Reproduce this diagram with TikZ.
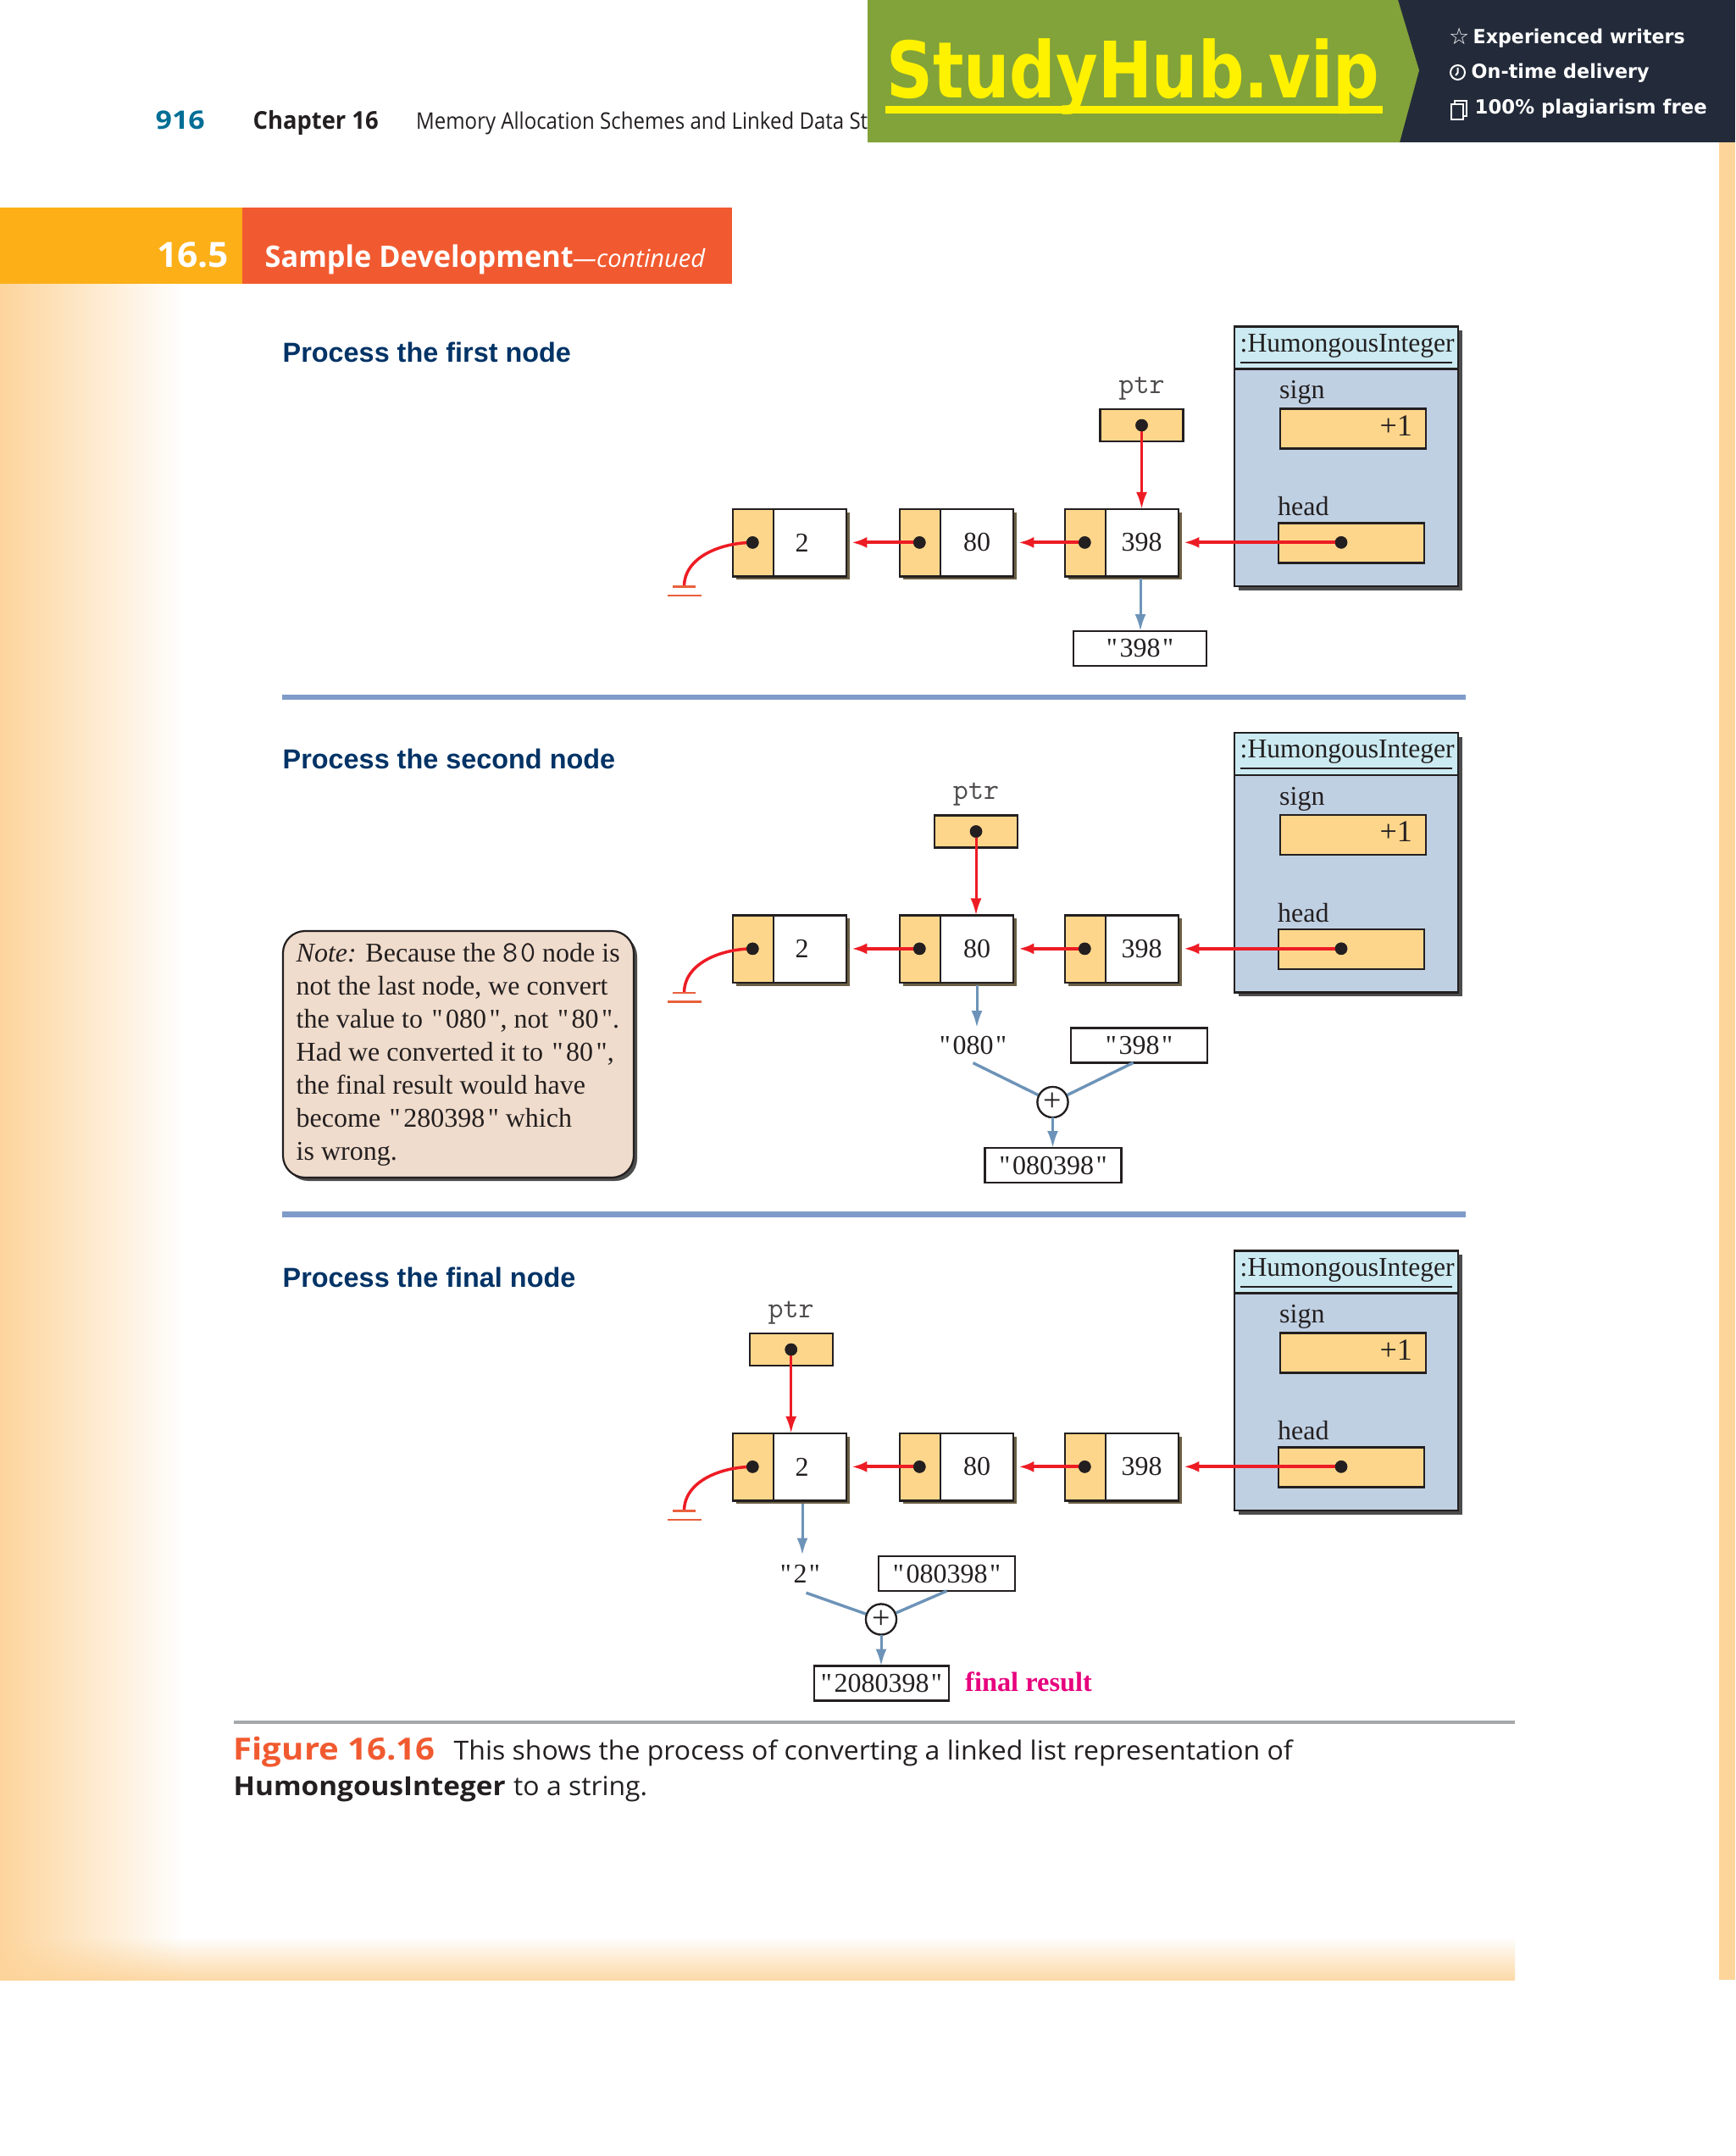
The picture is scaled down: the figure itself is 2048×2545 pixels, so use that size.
\documentclass[tikz,border=0pt]{standalone}
\usepackage{fontspec}
\setmainfont[Ligatures=TeXOff]{Liberation Serif}
\setsansfont{Open Sans}
\newfontfamily\arialfont{Liberation Sans}
\newfontfamily\dejafont{DejaVu Sans}
\usetikzlibrary{arrows.meta,shadows,fadings,shapes.geometric}
\definecolor{cellorange}{HTML}{FDD68B}
\definecolor{objblue}{HTML}{C0D0E3}
\definecolor{titlecyan}{HTML}{CBEAF1}
\definecolor{ink}{HTML}{231F20}
\definecolor{linkred}{HTML}{ED1C24}
\definecolor{flowblue}{HTML}{6D93B8}
\definecolor{groundred}{HTML}{E8603C}
\definecolor{rulepurple}{HTML}{7F9BC9}
\definecolor{headnavy}{HTML}{003366}
\definecolor{noteskin}{HTML}{F0DCCC}
\definecolor{band}{HTML}{FDD49A}
\definecolor{magentaink}{HTML}{E6007E}
\definecolor{pageteal}{HTML}{006E96}
\definecolor{nodeshadow}{HTML}{6B5F45}
\newcommand\pxsize[1]{\fontsize{#1}{#1}\selectfont}
\newcommand\fitw[2]{\resizebox{#1pt}{\height}{#2}}
\newcommand\qs[1]{"\kern2.5pt #1\kern2.5pt"}
\newcommand\qn[1]{\kern2.5pt"\kern3.5pt #1\kern3.5pt"}
\tikzset{
  txt/.style={inner sep=0pt,anchor=base west,text=ink,font=\pxsize{32}},
  ctxt/.style={inner sep=0pt,anchor=center,text=ink,font=\pxsize{32}},
  sans/.style={inner sep=0pt,anchor=base west,font=\sffamily\pxsize{27}},
  headtxt/.style={inner sep=0pt,anchor=base west,text=headnavy,font=\arialfont\bfseries\pxsize{32.4}},
  pen/.style={draw=ink,line width=2.2pt,outer sep=0pt},
  whole/.style={pen,fill=white,rectangle,inner sep=0pt,anchor=north west,minimum width=134pt,minimum height=79.5pt,
    general shadow={shadow xshift=4pt,shadow yshift=-4pt,fill=nodeshadow}},
  ptrcell/.style={pen,fill=cellorange,rectangle,inner sep=0pt,anchor=north west,minimum width=48pt,minimum height=79.5pt},
  slot/.style={pen,fill=cellorange,rectangle,inner sep=0pt,anchor=north west},
  strbox/.style={pen,fill=white,rectangle,inner sep=0pt,anchor=center,minimum height=41pt,text=ink,font=\pxsize{32}},
  dotn/.style={circle,fill=ink,inner sep=0pt,minimum size=14.5pt},
  redline/.style={draw=linkred,line width=4pt},
  redarrow/.style={redline,-{Latex[length=18pt,width=13pt]},shorten >=6pt},
  redvert/.style={draw=linkred,line width=3pt,-{Latex[length=20pt,width=13pt]}},
  bluearrow/.style={draw=flowblue,line width=3pt,-{Latex[length=20pt,width=13pt]}},
  blueline/.style={draw=flowblue,line width=3.4pt},
  plusn/.style={circle,pen,fill=white,inner sep=0pt,minimum size=36pt,font=\pxsize{38},text=ink},
  sepline/.style={draw=rulepurple,line width=6.5pt},
}
\newcommand\lnode[5]{% name, left x, top y, text centre x, text
  \node[whole] (#1) at (#2,#3) {};
  \node[ptrcell] (#1a) at (#2,#3) {};
  \node[dotn] (#1d) at (#2+23,#3+39.5) {};
  \node[ctxt] (#1t) at (#4,#3+39.5) {#5};
}
\newcommand\panel[1]{%
  \node[pen,rectangle,fill=objblue,inner sep=0pt,anchor=north west,minimum width=264pt,minimum height=306.5pt,
    general shadow={shadow xshift=4.5pt,shadow yshift=-4.5pt,fill=black!70}] (#1obj) at (1457.3,385.5) {};
  \node[pen,rectangle,fill=titlecyan,inner sep=0pt,anchor=north west,minimum width=264pt,minimum height=50pt] (#1title) at (1457.3,385.5) {};
  \node[txt] (#1titletext) at (1463.5,415) {\fitw{253}{:HumongousInteger}};
  \draw[draw=ink,line width=2pt] ([xshift=7pt,yshift=8pt]#1title.south west) -- ([xshift=-7pt,yshift=8pt]#1title.south east);
  \node[txt] (#1signl) at (1510,470.5) {sign};
  \node[slot,minimum width=172pt,minimum height=47pt] (#1sign) at (1510.8,482.5) {};
  \node[inner sep=0pt,anchor=base east,text=ink,font=\pxsize{36}] (#1plus) at (1667,514) {+1};
  \node[txt] (#1headl) at (1508,608.5) {head};
  \node[slot,minimum width=172pt,minimum height=47pt] (#1head) at (1509.3,617.5) {};
  \node[dotn] (#1headd) at (1583,640.3) {};
  \lnode{#1n}{865.3}{600.9}{946.5}{2}
  \lnode{#1e}{1062.3}{600.9}{1153}{80}
  \lnode{#1t}{1257.3}{600.9}{1347.5}{398}
  \draw[redarrow] (#1headd.center) -- (#1headd.center -| #1t.east);
  \draw[redarrow] (#1td.center) -- (#1td.center -| #1e.east);
  \draw[redarrow] (#1ed.center) -- (#1ed.center -| #1n.east);
  \node[dotn] at (#1headd) {};
  \node[dotn] at (#1td) {};
  \node[dotn] at (#1ed) {};
  \coordinate (#1gnd) at (807.5,692.5);
  \draw[draw=linkred,line width=3.5pt] (#1nd.center) to[out=180,in=90,looseness=0.95] (#1gnd);
  \node[dotn] at (#1nd) {};
  \draw[draw=groundred,line width=2.6pt] ([xshift=-13.5pt]#1gnd) -- ([xshift=13.5pt]#1gnd);
  \draw[draw=groundred,line width=2.6pt] ([xshift=-20pt,yshift=-10.5pt]#1gnd) -- ([xshift=20pt,yshift=-10.5pt]#1gnd);
}
\newcommand\ptrbox[3]{% prefix, centre x, target node
  \node[inner sep=0pt,anchor=base,text=ink!80,font=\ttfamily\pxsize{35}] (#1ptrl) at (#2,464) {ptr};
  \node[slot,anchor=center,minimum width=98pt,minimum height=38pt] (#1ptr) at (#2,502) {};
  \node[dotn] (#1ptrd) at (#2,502) {};
  \draw[redvert] (#1ptrd.center) -- (#1ptrd.center |- #3.north);
  \node[dotn] at (#1ptrd) {};
}
\begin{document}
\begin{tikzpicture}[x=1pt,y=-1pt]
\useasboundingbox (0,0) rectangle (2048,2545);
\fill[white] (0,0) rectangle (2048,2545);
% page tint
\begin{scope}
\clip (0,2287) rectangle (1788,2337);
\fill[band,path fading=north] (-100,2287) rectangle (1900,2345);
\end{scope}
\begin{scope}
\clip (0,335) rectangle (215,2337);
\fill[band,path fading=east] (-4,200) rectangle (215,2470);
\end{scope}
\fill[band] (2029,168) rectangle (2048,2337);
% running head
\node[sans,text=pageteal,font=\sffamily\bfseries\pxsize{30}] (pageno) at (183.5,153) {\fitw{58}{916}};
\node[sans,text=ink,font=\sffamily\bfseries\pxsize{29}] (chapter) at (298.5,153) {\fitw{148}{Chapter 16}};
\node[sans,text=ink] (runhead) at (491,153) {\fitw{533}{Memory Allocation Schemes and Linked Data St}};
% banner
\fill[fill={rgb,255:red,35;green,43;blue,58}] (1650,0) rectangle (2048,168);
\fill[fill={rgb,255:red,130;green,162;blue,58}] (1024,0) -- (1650,0) -- (1675,83) -- (1652,168) -- (1024,168) -- cycle;
\node[inner sep=0pt,anchor=base west,text={rgb,255:red,255;green,242;blue,0},font=\dejafont\bfseries\pxsize{92}] (brand) at (1046,116) {\fitw{582}{StudyHub.vip}};
\fill[fill={rgb,255:red,255;green,242;blue,0}] (1045,125) rectangle (1632,134);
\node[inner sep=0pt,anchor=base west,text=white,font=\dejafont\bfseries\pxsize{27}] (star) at (1710,53) {☆};
\node[inner sep=0pt,anchor=base west,text=white,font=\dejafont\bfseries\pxsize{23}] (b1) at (1738.5,52) {\fitw{250}{Experienced writers}};
\draw[white,line width=2pt] (1720.5,85.5) circle (8.5);
\draw[white,line width=2pt] (1720.5,80) -- (1720.5,86) -- (1718,89);
\node[inner sep=0pt,anchor=base west,text=white,font=\dejafont\bfseries\pxsize{23}] (b2) at (1736.5,93) {\fitw{210}{On-time delivery}};
\draw[white,line width=1.6pt] (1717,119) rectangle (1731,137);
\draw[white,line width=1.6pt,fill={rgb,255:red,35;green,43;blue,58}] (1713,123) rectangle (1727,141);
\node[inner sep=0pt,anchor=base west,text=white,font=\dejafont\bfseries\pxsize{23}] (b3) at (1740.5,135) {\fitw{274}{100\% plagiarism free}};
% section band
\fill[fill={rgb,255:red,252;green,175;blue,23}] (0,245) rectangle (286,335);
\fill[fill={rgb,255:red,241;green,90;blue,48}] (286,245) rectangle (864,335);
\node[sans,text=white,font=\sffamily\bfseries\pxsize{41}] (secno) at (185,315) {\fitw{85}{16.5}};
\node[sans,text=white,font=\sffamily\bfseries\pxsize{35}] (sectitle) at (312.5,315) {\fitw{364}{Sample Development}};
\node[sans,text=white,font=\sffamily\itshape\pxsize{29}] (seccont) at (676,315) {\fitw{156}{—continued}};
% panel headings
\node[headtxt] (h1) at (333.5,427) {Process the first node};
\node[headtxt] (h2) at (333.5,907) {Process the second node};
\node[headtxt] (h3) at (333.5,1519) {Process the final node};
\draw[sepline] (333,823) -- (1730,823);
\draw[sepline] (333,1433.5) -- (1730,1433.5);
% ---- panel 1
\panel{a}
\ptrbox{a}{1347.5}{at}
\node[strbox,minimum width=156.5pt] (astr) at (1345.5,765.5) {\qs{398}};
\coordinate (afrom) at (1346,683);
\draw[bluearrow] (afrom) -- (afrom |- astr.north);
% ---- panel 2
\begin{scope}[shift={(0,479.5)}]
\panel{b}
\ptrbox{b}{1152}{be}
\node[ctxt,minimum height=41pt] (bs1) at (1148.5,754.5) {\qs{080}};
\node[strbox,minimum width=161pt] (bs2) at (1344.5,754.5) {\qs{398}};
\node[plusn] (bplus) at (1242.5,821.5) {+};
\node[strbox,minimum width=161pt] (bs3) at (1243,896) {\qs{080398}};
\coordinate (bfrom) at (1153,683.5);
\coordinate (bto) at (1153,733.5);
\draw[bluearrow] (bfrom) -- (bto);
\draw[blueline] (bs1.south) -- (bplus);
\draw[blueline] ([xshift=-7pt]bs2.south) -- (bplus);
\node[plusn] at (bplus) {+};
\draw[bluearrow] (bplus.south) -- (bplus.south |- bs3.north);
\end{scope}
% note
\node[pen,rectangle,rounded corners=26pt,fill=noteskin,inner sep=0pt,anchor=north west,minimum width=414pt,minimum height=291pt,
  general shadow={shadow xshift=4pt,shadow yshift=-4pt,fill=black!70}] (note) at (334,1099) {};
\node[txt] (nl1) at (349.5,1135.7) {\textit{Note:} Because the {\ttfamily\pxsize{35}8\kern3pt 0} node is};
\node[txt] (nl2) at (349.5,1174.7) {not the last node, we convert};
\node[txt] (nl3) at (349.5,1213.7) {the value to \qn{080}, not \qn{80}.};
\node[txt] (nl4) at (349.5,1252.7) {Had we converted it to \qn{80},};
\node[txt] (nl5) at (349.5,1291.7) {the final result would have};
\node[txt] (nl6) at (349.5,1330.7) {become \qn{280398} which};
\node[txt] (nl7) at (349.5,1369.7) {is wrong.};
% ---- panel 3
\begin{scope}[shift={(0,1091)}]
\panel{c}
\ptrbox{c}{933.7}{cn}
\coordinate (cfrom) at (947,683.5);
\coordinate (cto) at (947,744.5);
\draw[bluearrow] (cfrom) -- (cto);
\node[ctxt,minimum height=41pt] (cs1) at (944.5,766.5) {\qs{2}};
\node[strbox,minimum width=160.5pt] (cs2) at (1117.5,766.5) {\qs{080398}};
\node[plusn] (cplus) at (1040,820.5) {+};
\node[strbox,minimum width=159.5pt] (cs3) at (1040.5,896) {\qs{2080398}};
\draw[blueline] ([xshift=7pt,yshift=-2pt]cs1.south) -- (cplus);
\draw[blueline] (cs2.south) -- (cplus);
\node[plusn] at (cplus) {+};
\draw[bluearrow] (cplus.south) -- (cplus.south |- cs3.north);
\node[txt,text=magentaink,font=\bfseries\pxsize{32.4}] (cfinal) at (1139,905) {final result};
\end{scope}
% caption
\fill[fill={rgb,255:red,166;green,168;blue,171}] (275.5,2031) rectangle (1788,2035);
\node[sans,text={rgb,255:red,241;green,90;blue,48},font=\sffamily\bfseries\pxsize{36}] (figno) at (275.5,2077) {\fitw{238}{Figure 16.16}};
\node[sans,text=ink,font=\sffamily\pxsize{31}] (cap1) at (535.5,2077) {\fitw{990}{This shows the process of converting a linked list representation of}};
\node[sans,text=ink,font=\sffamily\bfseries\pxsize{31}] (cap2) at (275.5,2119) {\fitw{321}{HumongousInteger}};
\node[sans,text=ink,font=\sffamily\pxsize{31}] (cap3) at (606,2119) {\fitw{158}{to a string.}};
\end{tikzpicture}
\end{document}
